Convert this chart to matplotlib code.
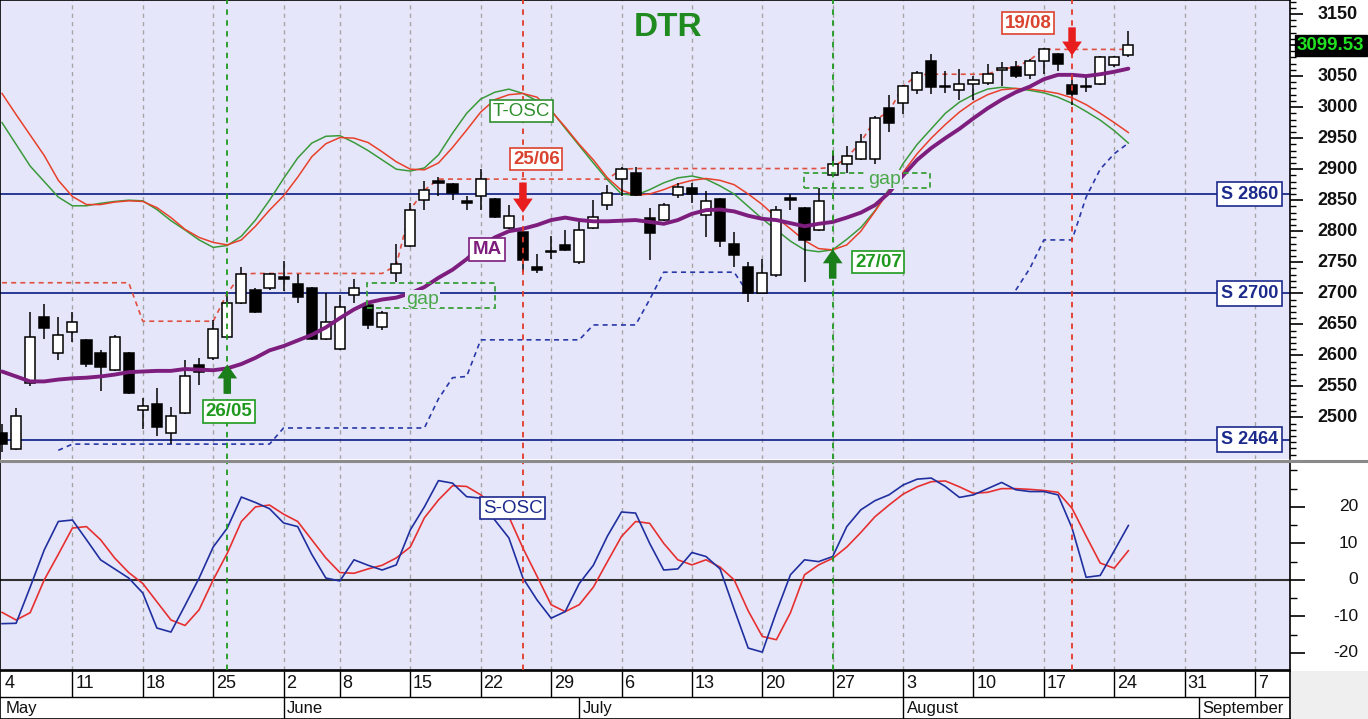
import matplotlib
matplotlib.use('Agg')
import matplotlib.pyplot as plt
import numpy as np
import pandas as pd
from matplotlib.patches import Rectangle
from matplotlib.lines import Line2D

plt.rcParams['font.family'] = ['Liberation Sans', 'DejaVu Sans']

# ---------------- calendar ----------------
trade_days = pd.bdate_range('2020-05-04', '2020-09-11')
trade_days = trade_days[trade_days != pd.Timestamp('2020-06-01')]

# ---------------- data ----------------
opens = [2475, 2449, 2556, 2662, 2603, 2637, 2624, 2604, 2576, 2603,
         2512, 2522, 2475, 2507, 2584, 2595, 2630, 2684, 2705, 2709,
         2726, 2715, 2708, 2627, 2611, 2698, 2681, 2645, 2732, 2777,
         2850, 2881, 2876, 2848, 2856, 2852, 2806, 2799, 2742, 2768,
         2778, 2750, 2806, 2842, 2884, 2894, 2821, 2818, 2858, 2869,
         2826, 2852, 2779, 2742, 2701, 2729, 2853, 2837, 2802, 2891,
         2908, 2917, 2917, 2998, 3007, 3027, 3074, 3034, 3027, 3038,
         3039, 3060, 3065, 3051, 3074, 3085, 3035, 3034, 3038, 3068,
         3084]
highs = [2490, 2515, 2670, 2682, 2662, 2670, 2626, 2609, 2632, 2605,
         2532, 2548, 2517, 2593, 2596, 2657, 2700, 2743, 2708, 2733,
         2752, 2731, 2710, 2700, 2698, 2723, 2683, 2672, 2780, 2845,
         2881, 2888, 2878, 2857, 2901, 2854, 2843, 2801, 2763, 2792,
         2802, 2815, 2850, 2874, 2903, 2904, 2837, 2845, 2877, 2877,
         2865, 2854, 2799, 2751, 2756, 2841, 2860, 2839, 2869, 2930,
         2937, 2957, 2985, 3020, 3036, 3058, 3086, 3058, 3062, 3050,
         3070, 3073, 3074, 3078, 3096, 3088, 3049, 3049, 3082, 3082,
         3122]
lows = [2445, 2447, 2550, 2626, 2592, 2622, 2581, 2543, 2574, 2538,
        2482, 2470, 2457, 2505, 2552, 2593, 2628, 2682, 2668, 2705,
        2703, 2685, 2625, 2625, 2609, 2684, 2642, 2641, 2719, 2775,
        2834, 2856, 2850, 2835, 2835, 2821, 2804, 2735, 2732, 2755,
        2768, 2748, 2804, 2834, 2856, 2857, 2754, 2816, 2853, 2845,
        2790, 2775, 2743, 2686, 2700, 2727, 2835, 2719, 2800, 2889,
        2894, 2915, 2908, 2960, 2989, 3021, 3021, 3022, 3011, 3011,
        3036, 3034, 3047, 3045, 3054, 3058, 3004, 3025, 3036, 3065,
        3080]
closes = [2457, 2502, 2630, 2644, 2633, 2654, 2586, 2581, 2630, 2540,
          2518, 2485, 2502, 2567, 2573, 2643, 2685, 2731, 2670, 2731,
          2723, 2694, 2627, 2653, 2678, 2709, 2649, 2669, 2747, 2835,
          2866, 2878, 2861, 2845, 2884, 2823, 2825, 2754, 2738, 2766,
          2770, 2802, 2823, 2862, 2900, 2858, 2797, 2843, 2872, 2860,
          2848, 2785, 2762, 2701, 2733, 2835, 2851, 2786, 2848, 2909,
          2921, 2944, 2983, 2975, 3034, 3055, 3033, 3032, 3037, 3044,
          3053, 3063, 3050, 3075, 3094, 3069, 3021, 3032, 3080, 3080,
          3099.53]
ma = [2574, 2566, 2558, 2558, 2561, 2563, 2564, 2566, 2569, 2573,
      2574, 2575, 2575, 2578, 2577, 2576, 2579, 2586, 2596, 2608,
      2615, 2624, 2633, 2645, 2660, 2674, 2685, 2690, 2693, 2700,
      2710, 2725, 2738, 2755, 2775, 2790, 2800, 2804, 2810, 2818,
      2822, 2818, 2816, 2816, 2817, 2818, 2815, 2812, 2818, 2828,
      2834, 2835, 2832, 2825, 2820, 2818, 2813, 2808, 2812, 2815,
      2822, 2830, 2842, 2862, 2890, 2915, 2934, 2950, 2965, 2982,
      2998, 3012, 3024, 3033, 3045, 3052, 3052, 3050, 3053, 3057,
      3062]
tosc_fast = [2975, 2940, 2905, 2880, 2855, 2841, 2841, 2845, 2848, 2850,
             2849, 2835, 2817, 2802, 2786, 2774, 2777, 2792, 2818, 2850,
             2885, 2918, 2942, 2953, 2954, 2943, 2930, 2915, 2900, 2897,
             2902, 2923, 2958, 2990, 3013, 3024, 3029, 3022, 3010, 2995,
             2966, 2938, 2910, 2883, 2860, 2858, 2867, 2878, 2886, 2889,
             2884, 2873, 2860, 2840, 2820, 2802, 2784, 2770, 2767, 2770,
             2787, 2806, 2833, 2868, 2909, 2940, 2965, 2990, 3008, 3020,
             3029, 3032, 3030, 3027, 3023, 3016, 3006, 2993, 2979, 2962,
             2942]
tosc_slow = [3022, 2988, 2955, 2922, 2882, 2856, 2843, 2843, 2847, 2849,
             2848, 2838, 2822, 2803, 2790, 2782, 2778, 2786, 2808, 2834,
             2857, 2887, 2920, 2941, 2951, 2950, 2943, 2928, 2912, 2900,
             2899, 2910, 2935, 2963, 2992, 3012, 3020, 3022, 3016, 2994,
             2968, 2940, 2915, 2886, 2866, 2858, 2860, 2867, 2876, 2882,
             2885, 2882, 2875, 2860, 2843, 2822, 2804, 2785, 2772, 2770,
             2778, 2800, 2832, 2865, 2895, 2925, 2950, 2972, 2992, 3008,
             3020, 3028, 3030, 3029, 3026, 3022, 3015, 3004, 2990, 2975,
             2959]
resist = [2717] * 10 + [2655] * 6 + [2700, 2731] + [2732] * 10 + \
         [2745, 2835, 2866] + [2884] * 13 + [2900] + [2901] * 14 + \
         [2903, 2918, 2944, 2979, 2993, 3033, 3052] + [3053] * 5 + \
         [3062, 3064, 3076] + [3093] * 7
nan = float('nan')
support = [nan] * 4 + [2447] + [2457] * 15 + [2483] * 11 + \
          [2530, 2564, 2566] + [2625] * 8 + [2649] * 4 + [2690] + \
          [2734] * 6 + [2700] + [nan] * 18 + \
          [2705, 2740, 2786, 2786, 2786, 2855, 2900, 2925, 2942]
sosc_fast = [-12, -11.9, -2, 8.2, 16, 16.4, 11, 5.5, 3, 0.5,
             -3.6, -13.2, -14.3, -7, 0.5, 9, 14.2, 22.7, 21.2, 19.5,
             15.6, 14.6, 7, 0.5, -0.3, 5.5, 4, 2.7, 4.1, 13.7,
             20, 27.2, 26.5, 22.8, 22.4, 16.4, 11.5, 0.5, -5.5, -10.5,
             -8.7, -1, 4, 12, 18.6, 18.3, 10, 2.7, 3.0, 7.5,
             6.4, 3, -8, -18.7, -19.8, -8.8, 1.4, 5.5, 5.0, 6.4,
             14.6, 19.2, 21.7, 23.3, 26, 27.6, 27.9, 25.6, 22.6, 23.3,
             25, 26.7, 24.7, 24.2, 24.2, 23.3, 14.2, 0.7, 1.2, 8,
             14.9]
sosc_slow = [-8.9, -11, -9, 0, 7, 14.2, 14.6, 11, 6, 2,
             -1, -6, -11, -12.5, -8.2, 0, 7.3, 16, 20, 20.5,
             18, 16, 11, 6, 2, 1.8, 3, 4, 6, 9,
             17, 21.9, 25.8, 25.6, 23.3, 20, 17.3, 8.7, 1, -6.8,
             -8.7, -6.8, -2, 5, 11.9, 16, 15.5, 10, 5.5, 4.1,
             5.5, 3.5, 0, -8.5, -15.5, -16.4, -9, 1.4, 4.1, 5.9,
             9, 13, 17.3, 20.5, 23.5, 25.5, 26.9, 27.1, 25.5, 23.7,
             24, 25, 25, 24.8, 24.5, 24, 19.6, 12, 4.6, 3.2,
             8.0]
support_levels = [2860, 2700, 2464]
support_labels = ['S 2860', 'S 2700', 'S 2464']
signal_idx = [16, 37, 59, 76]
signal_up = [True, False, True, False]
signal_labels = ['26/05', '25/06', '27/07', '19/08']
price_ticks = list(range(2500, 3151, 50))
osc_ticks = [-20, -10, 0, 10, 20]
last_price = 3099.53

# ---------------- figure ----------------
W, H = 1368, 719
fig = plt.figure(figsize=(W / 100, H / 100), dpi=100)
fig.patch.set_facecolor('white')
BG = '#e6e6fa'
NAVY = '#1c2a8c'
PURPLE = '#7d1d7d'
XL = (-0.142, 91.48)

ax1 = fig.add_axes([0, 1 - 459 / H, 1290 / W, 459 / H])
ax2 = fig.add_axes([0, 1 - 670 / H, 1290 / W, 208 / H])
ax3 = fig.add_axes([0, 0, 1290 / W, 48 / H])

n = len(closes)
x = np.arange(n)

wk = pd.Series(trade_days).dt.isocalendar().week.values
week_starts = [i for i in range(len(trade_days)) if i == 0 or wk[i] != wk[i - 1]]
week_starts = [i for i in week_starts if i <= XL[1]]
month_starts = [i for i in range(len(trade_days))
                if i == 0 or trade_days[i].month != trade_days[i - 1].month]
month_starts = [i for i in month_starts if i <= XL[1]]

for ax in (ax1, ax2):
    ax.set_facecolor(BG)
    ax.set_xlim(*XL)
    ax.set_xticks([])
    for ws in week_starts[1:]:
        ax.axvline(ws, color='#a4a4a4', lw=1, ls=(0, (3, 3)), zorder=0.5)
    for si, su in zip(signal_idx, signal_up):
        ax.axvline(si, color='#1f9a1f' if su else '#e23a2a', lw=1.3,
                   ls=(0, (3, 3)), zorder=4.5)
    for s in ('left', 'right', 'top', 'bottom'):
        ax.spines[s].set_color('black')
        ax.spines[s].set_linewidth(1.2)

# ---------------- upper panel ----------------
ax1.set_ylim(2433, 3172.6)
for lv, lb in zip(support_levels, support_labels):
    ax1.axhline(lv, color=NAVY, lw=1.3, zorder=1)
    ax1.text(88.6, lv, lb, ha='center', va='center', fontsize=13, fontweight='bold',
             color=NAVY, zorder=7,
             bbox=dict(boxstyle='square,pad=0.22', fc='white', ec=NAVY, lw=1.2))

ax1.plot(x, resist, color='#e05040', lw=1.2, ls=(0, (3, 2.5)), zorder=2)
ax1.plot(x, support, color='#2838a8', lw=1.2, ls=(0, (3, 2.5)), zorder=2)
ax1.plot(x, tosc_fast, color='#3a9a3a', lw=1.1, zorder=2.2)
ax1.plot(x, tosc_slow, color='#e8402a', lw=1.1, zorder=2.2)

o = np.array(opens, float)
c = np.array(closes, float)
hi = np.array(highs, float)
lo = np.array(lows, float)
upc = c >= o
ax1.vlines(x, lo, hi, color='black', lw=1.1, zorder=3)
ax1.bar(x, np.maximum(np.abs(c - o), 1.6), bottom=np.minimum(o, c), width=0.72,
        color=np.where(upc, 'white', 'black'), edgecolor='black', lw=1.1, zorder=3.5)

ax1.plot(x, ma, color=PURPLE, lw=2.8, zorder=4, solid_capstyle='round')

# gap boxes
for (x0, x1, y0, y1, tx, ty) in [(25.92, 35.0, 2676.8, 2717.1, 29.87, 2690.8),
                                 (56.96, 65.9, 2869.2, 2894.3, 62.7, 2884.0)]:
    ax1.add_patch(Rectangle((x0, y0), x1 - x0, y1 - y0, fill=False, ec='#3aa03a',
                            lw=1.3, ls=(0, (3, 2)), zorder=4.8))
    ax1.text(tx, ty, 'gap', ha='center', va='center', fontsize=14, color='#4aa84a',
             zorder=5, bbox=dict(boxstyle='square,pad=0.05', fc=BG, ec='none'))

# signals
arrow_pos = [(2538.0, 2585.5), (2878.5, 2830.0), (2723.5, 2771.0), (3128.5, 3083.0)]
label_pos = [(16.1, 2509.5), (37.96, 2916.0), (62.25, 2750.4), (72.9, 3135.5)]
for si, su, lb, (ytail, ytip), (lx, ly) in zip(signal_idx, signal_up, signal_labels,
                                                arrow_pos, label_pos):
    col = '#1a7f1a' if su else '#e81e1e'
    ax1.annotate('', xy=(si, ytip), xytext=(si, ytail),
                 arrowprops=dict(arrowstyle='simple,head_length=0.75,head_width=1.05,tail_width=0.4',
                                 mutation_scale=13.5, color=col, lw=0, shrinkA=0, shrinkB=0),
                 zorder=6)
    tcol = '#1f9a1f' if su else '#d9432f'
    ax1.text(lx, ly, lb, ha='center', va='center', fontsize=13.5, fontweight='bold',
             color=tcol, zorder=7,
             bbox=dict(boxstyle='square,pad=0.14', fc='white', ec=tcol, lw=1.2))

ax1.text(36.9, 2993.7, 'T-OSC', ha='center', va='center', fontsize=13.5, color='#2f8f2f',
         zorder=7, bbox=dict(boxstyle='square,pad=0.14', fc='white', ec='#2f8f2f', lw=1.2))
ax1.text(34.45, 2769.9, 'MA', ha='center', va='center', fontsize=13.5, fontweight='bold',
         color=PURPLE, zorder=7,
         bbox=dict(boxstyle='square,pad=0.16', fc='white', ec=PURPLE, lw=1.2))

# price axis
ax1.yaxis.tick_right()
ax1.set_yticks(price_ticks)
ax1.set_yticks(np.arange(2440, 3171, 10), minor=True)
ax1.tick_params(axis='y', which='major', direction='out', length=9, width=1.2,
                labelright=False, labelleft=False)
ax1.tick_params(axis='y', which='minor', direction='out', length=4, width=1.0)
ytr = ax1.get_yaxis_transform()
for p in price_ticks:
    if abs(p - last_price) > 20:
        ax1.text(1358 / 1290, p, str(p), transform=ytr, ha='right', va='center',
                 fontsize=13, fontweight='bold', color='#111111', clip_on=False)
ax1.text(1297 / 1290, last_price, f'{last_price:.2f}', transform=ytr, ha='left',
         va='center', fontsize=13.5, fontweight='bold', color='#22e022', clip_on=False,
         zorder=10, bbox=dict(boxstyle='square,pad=0.12', fc='black', ec='black'))
ax1.spines['bottom'].set_visible(False)

fig.text(668 / W, 1 - 28 / H, 'DTR', ha='center', va='center', fontsize=24,
         fontweight='bold', color='#1f8a1f')

# ---------------- lower panel ----------------
ax2.set_ylim(-24.7, 32.3)
ax2.axhline(0, color='#303030', lw=1.5, zorder=1)
ax2.plot(x, sosc_slow, color='#e63030', lw=1.2, zorder=3)
ax2.plot(x, sosc_fast, color='#1f2f9f', lw=1.2, zorder=3.2)
ax2.text(36.26, 19.6, 'S-OSC', ha='center', va='center', fontsize=13.5, color=NAVY,
         zorder=7, bbox=dict(boxstyle='square,pad=0.14', fc='white', ec=NAVY, lw=1.2))
ax2.yaxis.tick_right()
ax2.set_yticks(osc_ticks)
ax2.set_yticks(np.arange(-20, 31, 5), minor=True)
ax2.tick_params(axis='y', which='major', direction='out', length=11, width=1.2,
                labelright=False, labelleft=False)
ax2.tick_params(axis='y', which='minor', direction='out', length=5, width=1.0)
ytr2 = ax2.get_yaxis_transform()
for v in osc_ticks:
    ax2.text(1358 / 1290, v, str(v), transform=ytr2, ha='right', va='center',
             fontsize=12.5, color='#111111', clip_on=False)
ax2.spines['top'].set_visible(False)

# panel separator across the full width
fig.add_artist(Line2D([0, 1], [1 - 460.5 / H, 1 - 460.5 / H], transform=fig.transFigure,
                      color='#8a8a8a', lw=2.2, zorder=20))

# ---------------- date axis ----------------
ax3.set_facecolor('white')
ax3.set_xlim(*XL)
ax3.set_ylim(0, 48)
ax3.set_xticks([])
ax3.set_yticks([])
ax3.axhline(22, color='black', lw=1)
for ws in week_starts:
    if ws > 0:
        ax3.vlines(ws, 22, 48, color='black', lw=1)
    ax3.text(ws + 0.2, 35, str(trade_days[ws].day), ha='left', va='center',
             fontsize=13, color='#111111', clip_on=True)
for ms in month_starts:
    if ms > 0:
        ax3.vlines(ms, 0, 22, color='black', lw=1)
    ax3.text(ms + 0.25, 10.5, trade_days[ms].strftime('%B'), ha='left', va='center',
             fontsize=12, color='#111111', clip_on=True)
for s in ax3.spines.values():
    s.set_color('black')
    s.set_linewidth(1.2)

fig.patches.append(Rectangle((1291 / W, 0), 77 / W, 48 / H, transform=fig.transFigure,
                             fc='#efefef', ec='none', zorder=0))

fig.savefig('out.png', dpi=100, facecolor='white')
